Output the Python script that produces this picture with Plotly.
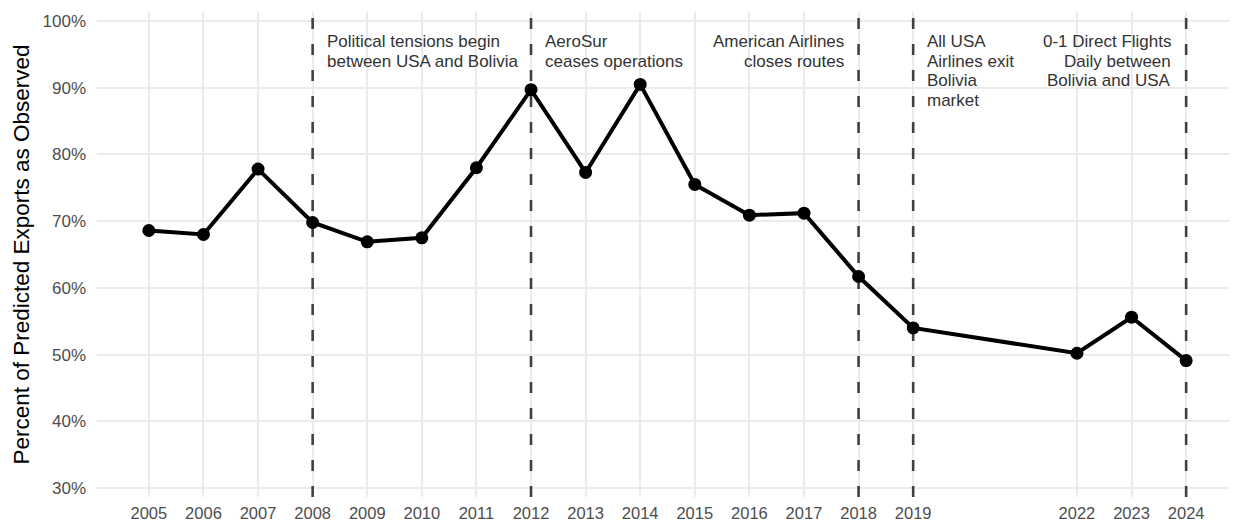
import plotly.graph_objects as go

# --- Data ---
years = [2005, 2006, 2007, 2008, 2009, 2010, 2011, 2012, 2013, 2014,
         2015, 2016, 2017, 2018, 2019, 2022, 2023, 2024]
pct_observed = [68.6, 68.0, 77.8, 69.8, 66.9, 67.5, 78.0, 89.7, 77.3, 90.5,
                75.5, 70.9, 71.2, 61.7, 54.0, 50.2, 55.6, 49.1]

event_years = [2008, 2012, 2018, 2019, 2024]
event_labels = [
    "Political tensions begin<br>between USA and Bolivia",
    "AeroSur<br>ceases operations",
    "American Airlines<br>closes routes",
    "All USA<br>Airlines exit<br>Bolivia<br>market",
    "0-1 Direct Flights<br>Daily between<br>Bolivia and USA",
]
# which side of the dashed line the text sits on
event_side = ["right", "right", "left", "right", "left"]

y_ticks = [30, 40, 50, 60, 70, 80, 90, 100]
y_range = [28.65, 101.35]
x_range = [2004.05, 2024.95]

FONT = "Liberation Sans, Arial, sans-serif"
LINE_GAP = 19.6  # px between annotation lines

fig = go.Figure()

# dashed event lines, drawn first so the data line sits on top
for yr in event_years:
    fig.add_trace(go.Scatter(
        x=[yr, yr], y=y_range, mode="lines",
        line=dict(color="#404040", width=2.6, dash="11px,15px"),
        showlegend=False, hoverinfo="skip",
    ))

fig.add_trace(go.Scatter(
    x=years, y=pct_observed,
    mode="lines+markers",
    line=dict(color="black", width=4),
    marker=dict(color="black", size=13),
    showlegend=False,
    hoverinfo="x+y",
))

for yr, label, side in zip(event_years, event_labels, event_side):
    for i, line in enumerate(label.split("<br>")):
        fig.add_annotation(
            x=yr, y=96.9, xref="x", yref="y",
            text=line, showarrow=False,
            xanchor="left" if side == "right" else "right",
            yanchor="middle",
            xshift=12 if side == "right" else -13,
            yshift=-LINE_GAP * i,
            font=dict(family=FONT, size=17, color="#333333"),
        )

# page body adds an 8px offset, so the margins are shifted to compensate
fig.update_layout(
    width=1238, height=523,
    margin=dict(l=89, r=8, t=4, b=34),
    paper_bgcolor="white",
    plot_bgcolor="white",
    font=dict(family=FONT),
    xaxis=dict(
        range=x_range,
        tickmode="array", tickvals=years, ticktext=[str(y) for y in years],
        showgrid=True, gridcolor="#ebebeb", gridwidth=1.5,
        zeroline=False, showline=False, ticks="",
        tickfont=dict(size=16.5, color="#4d4d4d"),
        ticklabelstandoff=4,
    ),
    yaxis=dict(
        range=y_range,
        tickmode="array", tickvals=y_ticks, ticktext=[f"{v}%" for v in y_ticks],
        showgrid=True, gridcolor="#ebebeb", gridwidth=1.5,
        zeroline=False, showline=False, ticks="",
        tickfont=dict(size=17, color="#4d4d4d"),
        ticklabelstandoff=10,
        title=dict(text="Percent of Predicted Exports as Observed",
                   font=dict(size=22.5, color="black"), standoff=6),
    ),
)

fig.write_html("out.html")
